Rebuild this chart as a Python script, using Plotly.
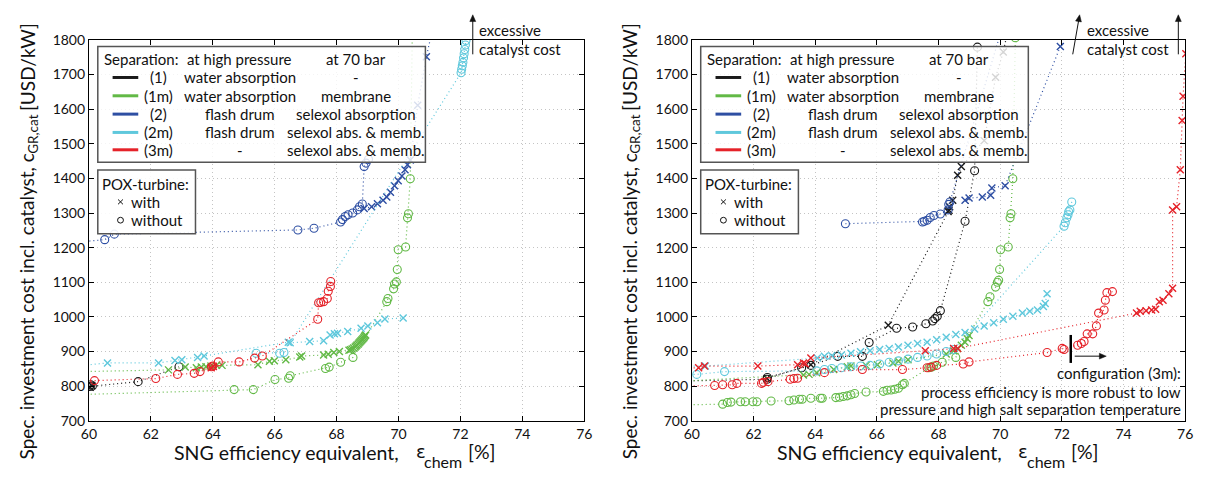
import math
import plotly.graph_objects as go

W, H = 1210, 477
F = "Lato"

# ---------------- tick labels ----------------
x_ticks = [60, 62, 64, 66, 68, 70, 72, 74, 76]
y_ticks = [700, 800, 900, 1000, 1100, 1200, 1300, 1400, 1500, 1600, 1700, 1800]

# ---------------- colours ----------------
C_BLACK = "#1a1a1a"
C_GREEN = "#62b946"
C_BLUE = "#2e4fa3"
C_CYAN = "#5fc8dc"
C_RED = "#e52229"

# ================= LEFT PANEL =================
L_black_o_x = [59.8, 60.02, 60.06, 60.11, 61.59, 62.91]
L_black_o_y = [797, 799, 804, 800, 813, 856]
L_black_x_x = [60.04, 60.09]
L_black_x_y = [797, 802]

L_green_x_x = [59.8, 62.57, 63.11, 63.47, 63.63, 63.78, 63.94, 64.12, 64.30, 65.46, 65.83, 65.99, 66.36,
               66.81, 66.87, 67.58, 67.73, 67.91, 68.09, 68.40, 68.45, 68.50, 68.55, 68.60, 68.63, 68.66,
               68.70, 68.73, 68.76, 68.79, 68.82, 68.85, 68.88, 68.90, 68.92, 68.94]
L_green_x_y = [842, 847, 855, 853, 855, 856, 858, 860, 860, 862, 872, 873, 876,
               884, 887, 890, 892, 897, 900, 904, 905, 907, 910, 913, 916, 919,
               922, 925, 928, 931, 934, 937, 940, 943, 946, 948]
L_green_o_x = [59.8, 64.69, 65.31, 66.01, 66.45, 66.50, 67.64, 67.76, 68.13, 68.53, 69.62, 69.66, 69.84,
               69.87, 69.93, 69.96, 69.99, 70.23, 70.29, 70.32, 70.38, 70.45]
L_green_o_y = [776, 790, 790, 819, 823, 830, 851, 855, 869, 883, 1044, 1053, 1081,
               1095, 1101, 1137, 1194, 1202, 1286, 1298, 1399, 1850]

L_blue_o_x = [59.5, 60.51, 60.82, 66.75, 67.27, 68.13, 68.19, 68.28, 68.37, 68.52, 68.67, 68.74, 68.83,
              68.89, 68.95, 69.03]
L_blue_o_y = [1215, 1223, 1239, 1251, 1256, 1274, 1281, 1290, 1295, 1300, 1309, 1318, 1326,
              1434, 1444, 1455]
L_blue_x_x = [68.89, 69.13, 69.32, 69.50, 69.62, 69.74, 69.87, 69.99, 70.11, 70.21, 70.29, 70.38,
              70.62, 70.90, 71.06]
L_blue_x_y = [1313, 1318, 1327, 1337, 1346, 1360, 1379, 1393, 1407, 1425, 1439, 1453,
              1611, 1751, 1816]

L_cyan_x_x = [59.8, 60.60, 62.25, 62.78, 63.00, 63.51, 63.72, 66.44, 66.50, 67.13, 67.58, 67.79, 67.93,
              68.03, 68.36, 68.79, 69.01, 69.32, 69.56, 70.15]
L_cyan_x_y = [860, 867, 867, 874, 876, 883, 887, 927, 925, 929, 931, 948, 951,
              953, 958, 967, 974, 983, 994, 997]
L_cyan_o_x = [65.40, 66.16, 66.30, 72.02, 72.04, 72.06, 72.08, 72.10, 72.12, 72.14, 72.16, 72.18]
L_cyan_o_y = [895, 895, 897, 1705, 1715, 1725, 1735, 1748, 1760, 1772, 1785, 1798]

L_red_o_x = [59.8, 60.18, 62.16, 62.86, 63.40, 63.59, 63.96, 64.00, 64.18, 64.85, 65.35, 65.60, 67.39,
             67.42, 67.49, 67.58, 67.70, 67.73, 67.80, 67.81]
L_red_o_y = [812, 816, 822, 834, 837, 842, 856, 858, 870, 870, 881, 887, 993,
             1041, 1042, 1044, 1053, 1074, 1088, 1102]
L_red_x_x = [63.95, 64.02]
L_red_x_y = [853, 857]

# ================= RIGHT PANEL =================
R_black_o_x = [59.8, 62.44, 62.45, 63.56, 63.86, 64.73, 65.53, 65.75, 66.64, 67.16, 67.59, 67.81, 67.88,
               67.96, 68.06, 68.86, 69.17, 69.26]
R_black_o_y = [815, 820, 825, 853, 860, 886, 886, 926, 967, 971, 980, 988, 995,
               1002, 1018, 1276, 1422, 1779]
R_black_x_x = [62.44, 63.86, 66.37, 68.31, 68.34, 68.36, 68.46, 68.62, 68.74, 69.48, 69.85, 70.10, 70.22]
R_black_x_y = [822, 862, 976, 1304, 1308, 1318, 1337, 1409, 1434, 1509, 1692, 1765, 1816]

R_green_o_x = [59.8, 61.00, 61.15, 61.27, 61.58, 61.73, 61.98, 62.11, 62.57, 63.15, 63.31, 63.49, 63.58,
               63.86, 64.17, 64.23, 64.67, 64.79, 64.91, 65.04, 65.16, 65.28, 65.65, 66.21, 66.33, 66.46,
               66.58, 66.70, 66.83, 66.89, 67.69, 67.78, 67.84, 68.12, 68.56, 69.60, 69.67, 69.85, 69.91,
               69.95, 69.98, 70.01, 70.26, 70.32, 70.35, 70.41, 70.49]
R_green_o_y = [746, 748, 753, 754, 755, 755, 755, 755, 757, 758, 760, 762, 762,
               765, 765, 765, 767, 768, 770, 772, 775, 779, 783, 785, 788, 789,
               791, 794, 804, 808, 853, 855, 858, 869, 883, 1044, 1058, 1086, 1100,
               1106, 1137, 1194, 1202, 1286, 1298, 1399, 1806]
R_green_x_x = [59.8, 63.62, 63.80, 64.05, 64.60, 65.04, 65.16, 65.65, 66.02, 66.52, 66.70, 67.01, 68.25,
               68.49, 68.62, 68.74, 68.86, 68.93, 68.99]
R_green_x_y = [815, 832, 834, 839, 848, 856, 858, 860, 862, 867, 872, 876, 893,
               902, 909, 918, 927, 937, 946]

R_blue_o_x = [64.98, 67.48, 67.54, 67.63, 67.73, 67.85, 68.06, 68.31, 68.33, 68.37, 70.00]
R_blue_o_y = [1269, 1274, 1276, 1279, 1287, 1293, 1297, 1309, 1325, 1332, 1816]
R_blue_x_x = [68.86, 68.99, 69.42, 69.69, 69.73, 70.16, 71.95, 72.10]
R_blue_x_y = [1337, 1343, 1346, 1351, 1372, 1379, 1781, 1811]

R_cyan_x_x = [59.8, 60.44, 64.07, 64.30, 64.54, 64.85, 65.16, 65.47, 65.78, 66.09, 66.40, 66.70, 67.01,
              67.32, 67.63, 67.94, 68.25, 68.56, 68.86, 69.17, 69.48, 69.79, 70.10, 70.41, 70.72, 70.96,
              71.21, 71.40, 71.46, 71.52]
R_cyan_x_y = [858, 858, 881, 886, 888, 890, 895, 899, 902, 906, 909, 913, 918,
              923, 927, 934, 941, 949, 955, 965, 974, 983, 993, 1002, 1011, 1016,
              1020, 1030, 1039, 1067]
R_cyan_o_x = [59.8, 60.16, 61.06, 64.05, 64.30, 64.54, 64.85, 65.16, 65.47, 65.78, 66.09, 66.40, 66.70,
              67.01, 67.32, 67.63, 67.94, 68.25, 68.49, 72.07, 72.11, 72.16, 72.20, 72.22, 72.26, 72.32]
R_cyan_o_y = [833, 834, 842, 844, 848, 851, 853, 856, 858, 860, 864, 869, 873,
              878, 883, 887, 893, 900, 906, 1262, 1272, 1286, 1295, 1304, 1309, 1332]

R_red_x_x = [59.8, 60.22, 60.41, 62.14, 63.43, 63.62, 63.68, 63.86, 67.57, 68.49, 68.62, 74.42, 74.54,
             74.73, 74.91, 75.04, 75.16, 75.28, 75.47, 75.59, 75.59, 75.72, 75.84, 75.90, 75.93, 76.02]
R_red_x_y = [853, 853, 858, 858, 862, 867, 865, 881, 902, 909, 909, 1011, 1016,
             1018, 1020, 1022, 1044, 1048, 1067, 1083, 1309, 1318, 1425, 1567, 1637, 1760]
R_red_o_x = [59.8, 60.74, 61.00, 61.31, 61.46, 62.26, 62.32, 62.47, 63.19, 63.31, 63.43, 64.30, 65.53,
             66.83, 67.63, 67.75, 67.94, 68.80, 68.99, 71.52, 72.01, 72.07, 72.51, 72.63, 72.72, 72.82,
             73.00, 73.12, 73.19, 73.37, 73.41, 73.46, 73.64]
R_red_o_y = [800, 802, 804, 804, 808, 808, 811, 813, 820, 822, 823, 839, 848,
             848, 853, 855, 860, 864, 870, 897, 909, 906, 918, 923, 929, 951,
             951, 974, 1011, 1020, 1048, 1070, 1073]

series = [
    # (x, y, colour, marker, panel)
    (L_black_o_x, L_black_o_y, C_BLACK, "o", 1),
    (L_black_x_x, L_black_x_y, C_BLACK, "x", 1),
    (L_green_x_x, L_green_x_y, C_GREEN, "x", 1),
    (L_green_o_x, L_green_o_y, C_GREEN, "o", 1),
    (L_blue_o_x, L_blue_o_y, C_BLUE, "o", 1),
    (L_blue_x_x, L_blue_x_y, C_BLUE, "x", 1),
    (L_cyan_x_x, L_cyan_x_y, C_CYAN, "x", 1),
    (L_cyan_o_x, L_cyan_o_y, C_CYAN, "o", 1),
    (L_red_o_x, L_red_o_y, C_RED, "o", 1),
    (L_red_x_x, L_red_x_y, C_RED, "x", 1),
    (R_black_o_x, R_black_o_y, C_BLACK, "o", 2),
    (R_black_x_x, R_black_x_y, C_BLACK, "x", 2),
    (R_green_o_x, R_green_o_y, C_GREEN, "o", 2),
    (R_green_x_x, R_green_x_y, C_GREEN, "x", 2),
    (R_blue_o_x, R_blue_o_y, C_BLUE, "o", 2),
    (R_blue_x_x, R_blue_x_y, C_BLUE, "x", 2),
    (R_cyan_x_x, R_cyan_x_y, C_CYAN, "x", 2),
    (R_cyan_o_x, R_cyan_o_y, C_CYAN, "o", 2),
    (R_red_x_x, R_red_x_y, C_RED, "x", 2),
    (R_red_o_x, R_red_o_y, C_RED, "o", 2),
]

fig = go.Figure()
for xs, ys, col, mk, panel in series:
    if mk == "o":
        marker = dict(symbol="circle-open", size=8, color=col, line=dict(width=1.1, color=col))
    else:
        marker = dict(symbol="x-thin-open", size=7, color=col, line=dict(width=1.4, color=col))
    fig.add_trace(go.Scatter(
        x=xs, y=ys, mode="lines+markers",
        line=dict(color=col, width=1.2, dash="1px,3px"),
        marker=marker, showlegend=False, hoverinfo="skip",
        xaxis="x" if panel == 1 else "x2", yaxis="y" if panel == 1 else "y2",
    ))


def PX(p):
    return p / W


def PY(p):
    return 1 - p / H


axis_common = dict(
    ticks="inside", ticklen=5, tickcolor="black", showline=True, linecolor="black",
    linewidth=1, mirror="ticks", showgrid=True, gridcolor="#c4c4c4", griddash="1px,3px",
    gridwidth=1, zeroline=False, tickfont=dict(family=F, size=14, color="#111"),
)

fig.update_layout(
    width=W, height=H, margin=dict(l=0, r=0, t=0, b=0),
    paper_bgcolor="white", plot_bgcolor="white",
    xaxis=dict(domain=[PX(82), PX(584)], range=[60, 76], tickvals=x_ticks, anchor="y", **axis_common),
    yaxis=dict(domain=[PY(427), PY(32)], range=[700, 1800], tickvals=y_ticks, anchor="x", **axis_common),
    xaxis2=dict(domain=[PX(693), PX(1193)], range=[60, 76], tickvals=x_ticks, anchor="y2", **axis_common),
    yaxis2=dict(domain=[PY(427), PY(32)], range=[700, 1800], tickvals=y_ticks, anchor="x2", **axis_common),
)

shapes = []
ann = []


def text(s, x, y, size=15, xanchor="left", yanchor="middle", angle=0, family=F):
    ann.append(dict(text=s, x=PX(x), y=PY(y), xref="paper", yref="paper", showarrow=False,
                    xanchor=xanchor, yanchor=yanchor, textangle=angle, borderpad=0, borderwidth=0,
                    font=dict(family=family, size=size, color="#111")))


def seg(x0, y0, x1, y1, color="#111", width=1):
    shapes.append(dict(type="line", xref="paper", yref="paper", x0=PX(x0), x1=PX(x1),
                       y0=PY(y0), y1=PY(y1), line=dict(color=color, width=width), layer="above"))


def arrow(hx, hy, tx, ty, head=7, half=3):
    L = math.hypot(hx - tx, hy - ty)
    dx, dy = (hx - tx) / L, (hy - ty) / L
    nx, ny = -dy, dx
    seg(tx, ty, hx - dx * (head - 1), hy - dy * (head - 1))
    bx, by = hx - dx * head, hy - dy * head
    p = "M {:.5f},{:.5f} L {:.5f},{:.5f} L {:.5f},{:.5f} Z".format(
        PX(hx), PY(hy), PX(bx + nx * half), PY(by + ny * half), PX(bx - nx * half), PY(by - ny * half))
    shapes.append(dict(type="path", xref="paper", yref="paper", path=p, fillcolor="#111",
                       line=dict(color="#111", width=0.5), layer="above"))


leg_colors = [C_BLACK, C_GREEN, C_BLUE, C_CYAN, C_RED]
leg_labels = ["(1)", "(1m)", "(2)", "(2m)", "(3m)"]
leg_col2 = ["water absorption", "water absorption", "flash drum", "flash drum", "-"]
leg_col3 = ["-", "membrane", "selexol absorption", "selexol abs. & memb.", "selexol abs. & memb."]
rows = [71, 90, 109, 128, 146]

for ox in (0, 611):
    # legend box
    shapes.append(dict(type="rect", xref="paper", yref="paper", x0=PX(ox + 91), x1=PX(ox + 423),
                       y0=PY(159), y1=PY(39), line=dict(color="#555", width=1.5),
                       fillcolor="rgba(255,255,255,0.82)", layer="above"))
    text("Separation:", ox + 97, 52)
    text("at high pressure", ox + 235, 52, xanchor="center")
    text("at 70 bar", ox + 353, 52, xanchor="center")
    for i, r in enumerate(rows):
        seg(ox + 106, r, ox + 132, r, color=leg_colors[i], width=3)
        text(leg_labels[i], ox + 153, r, xanchor="center")
        text(leg_col2[i], ox + 235, r, xanchor="center")
        text(leg_col3[i], ox + 353, r, xanchor="center")
    # POX box
    shapes.append(dict(type="rect", xref="paper", yref="paper", x0=PX(ox + 91), x1=PX(ox + 190),
                       y0=PY(233), y1=PY(167), line=dict(color="#555", width=1.5),
                       fillcolor="rgba(255,255,255,0.9)", layer="above"))
    text("POX-turbine:", ox + 95, 181)
    text("with", ox + 125, 200)
    text("without", ox + 125, 219)
    cx = ox + 114
    seg(cx - 2.5, 197.5, cx + 2.5, 202.5)
    seg(cx - 2.5, 202.5, cx + 2.5, 197.5)
    shapes.append(dict(type="circle", xref="paper", yref="paper", x0=PX(cx - 3), x1=PX(cx + 3),
                       y0=PY(222), y1=PY(216), line=dict(color="#111", width=1), layer="above"))
    # y axis title, built from three rotated pieces (main text, subscript, unit)
    text("Spec. investment cost incl. catalyst, c", ox + 19, 150, size=19,
         xanchor="center", yanchor="top", angle=-90)
    text("GR,cat", ox + 25, 150, size=13.5, xanchor="center", yanchor="bottom", angle=-90)
    text("[USD/kW]", ox + 19, 106, size=19, xanchor="center", yanchor="bottom", angle=-90)
    # x axis title
    text("SNG efficiency equivalent,", ox + 282, 460, size=19.5, xanchor="center")
    text("ε", ox + 413, 459, size=18, family="DejaVu Sans")
    text("chem", ox + 422, 469, size=16)
    text("[%]", ox + 466, 459, size=19.5)

# excessive catalyst cost
text("excessive", 477, 22)
text("catalyst cost", 477, 41)
text("excessive", 1093, 22)
text("catalyst cost", 1093, 41)

arrow(471, 6, 471, 47)
arrow(1086, 6, 1079, 47)
arrow(1186, 6, 1186, 47)
arrow(1113, 360, 1081, 360)
seg(1077, 338, 1077, 367, color="black", width=2.5)
text("configuration (3m):", 1189, 377, xanchor="right")
text("process efficiency is more robust to low", 1189, 397, xanchor="right")
text("pressure and high salt separation temperature", 1189, 415, xanchor="right")

fig.update_layout(shapes=shapes, annotations=ann)
fig.write_html("out.html")
